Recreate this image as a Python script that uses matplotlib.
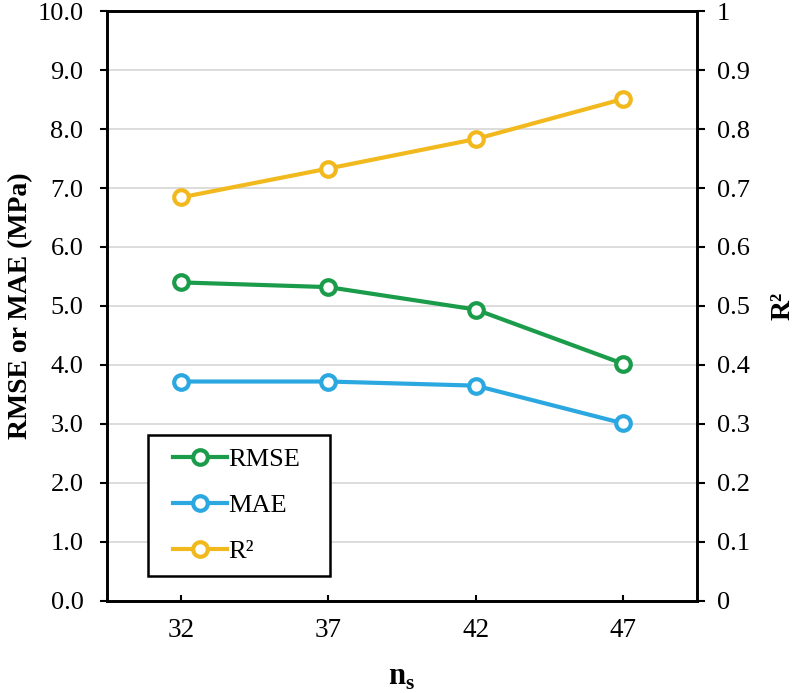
import matplotlib
matplotlib.use("Agg")
import matplotlib.pyplot as plt
from matplotlib.patches import Rectangle

plt.rcParams["font.family"] = ["Liberation Serif", "DejaVu Serif"]
plt.rcParams["mathtext.fontset"] = "custom"
plt.rcParams["mathtext.rm"] = "Liberation Serif"
plt.rcParams["mathtext.bf"] = "Liberation Serif:bold"

# data
ns = ["32", "37", "42", "47"]
rmse = [5.40, 5.32, 4.94, 4.02]
mae = [3.72, 3.72, 3.65, 3.01]
r2 = [0.684, 0.733, 0.783, 0.851]

left_ticks = [0, 1, 2, 3, 4, 5, 6, 7, 8, 9, 10]
left_labels = ["0.0", "1.0", "2.0", "3.0", "4.0", "5.0", "6.0", "7.0", "8.0", "9.0", "10.0"]
right_ticks = [0, 0.1, 0.2, 0.3, 0.4, 0.5, 0.6, 0.7, 0.8, 0.9, 1.0]
right_labels = ["0", "0.1", "0.2", "0.3", "0.4", "0.5", "0.6", "0.7", "0.8", "0.9", "1"]

GREEN = "#1A9C4A"
BLUE = "#2BA8E0"
YELLOW = "#F2B91E"

fig = plt.figure(figsize=(8, 6.93), dpi=100)
ax = fig.add_axes([0.13375, 0.1328, 0.7375, 0.8513])
ax2 = ax.twinx()

x = list(range(len(ns)))
style = dict(marker="o", markersize=10.5, markerfacecolor="white", markeredgewidth=3.0, linewidth=3.0)
l1, = ax.plot(x, rmse, color=GREEN, label="RMSE", **style)
l2, = ax.plot(x, mae, color=BLUE, label="MAE", **style)
l3, = ax2.plot(x, r2, color=YELLOW, label="R²", **style)

ax.set_xlim(-0.5, 3.5)
ax.set_ylim(0, 10)
ax2.set_ylim(0, 1)
ax.set_xticks(x)
ax.set_xticklabels(ns)
ax.set_yticks(left_ticks)
ax.set_yticklabels(left_labels)
ax2.set_yticks(right_ticks)
ax2.set_yticklabels(right_labels)

ax.grid(axis="y", color="#D9D9D9", linewidth=1.3)
ax.set_axisbelow(True)
for a in (ax, ax2):
    for s in a.spines.values():
        s.set_linewidth(1.9)
        s.set_color("black")

ax.tick_params(axis="x", direction="in", length=4.5, width=1.5, pad=12, labelsize=19.5)
ax.tick_params(axis="y", direction="out", length=5, width=1.5, pad=12, labelsize=19)
ax2.tick_params(axis="y", direction="out", length=5.5, width=1.5, pad=9, labelsize=19)

ax.set_ylabel("RMSE or MAE (MPa)", fontsize=20, fontweight="bold")
ax.yaxis.set_label_coords(-0.125, 0.5)
ax2.set_ylabel("R²", fontsize=20, fontweight="bold", rotation=90)
ax2.yaxis.set_label_coords(1.124, 0.5)
ax.set_xlabel(r"$\mathbf{n}_\mathbf{s}$", fontsize=22)
ax.xaxis.set_label_coords(0.5, -0.105)

# legend frame drawn separately so the box can be wider than the entries
box = Rectangle((0.0695, 0.0424), 0.3085, 0.239, transform=ax2.transAxes,
                facecolor="white", edgecolor="black", linewidth=1.8, zorder=5)
ax2.add_patch(box)
leg = ax2.legend(handles=[l1, l2, l3], loc="center", bbox_to_anchor=(0.2195, 0.162),
                 fontsize=19, frameon=False, handlelength=2.05, handletextpad=0.05,
                 labelspacing=0.85, borderpad=0.3)
leg.set_zorder(6)

fig.savefig("out.png", dpi=100)
